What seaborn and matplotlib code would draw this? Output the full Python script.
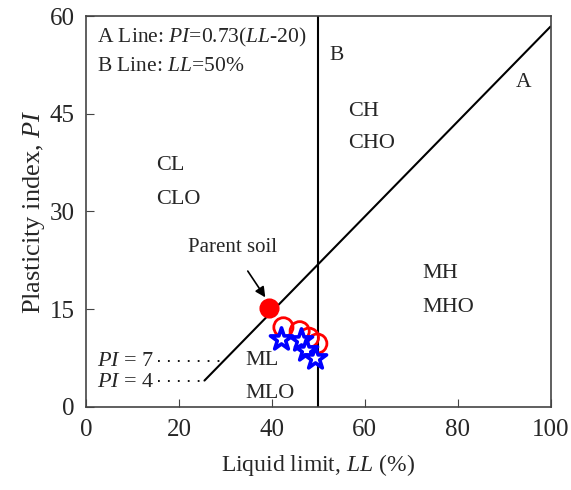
import seaborn as sns
import matplotlib.pyplot as plt
import pandas as pd
import numpy as np

# --- Data ---
parent_ll = [39.3]
parent_pi = [15.2]

circle_ll = [42.5, 46.0, 48.0, 49.8]
circle_pi = [12.2, 11.6, 10.6, 9.7]

star_ll = [41.9, 46.3, 47.4, 49.3]
star_pi = [10.4, 10.2, 8.7, 7.5]

a_line_ll = [25.5, 100]
a_line_pi = [0.73 * (v - 20) for v in a_line_ll]

zones = ["CL", "CLO", "CH", "CHO", "MH", "MHO", "ML", "MLO"]
zone_x = [15.0, 15.0, 56.5, 56.5, 72.5, 72.5, 34.3, 34.3]
zone_y = [37.0, 31.8, 45.4, 40.4, 20.4, 15.2, 7.1, 2.0]

sns.set_style("ticks")
plt.rcParams["font.family"] = ["Liberation Serif", "DejaVu Serif"]
plt.rcParams["mathtext.fontset"] = "custom"
plt.rcParams["mathtext.rm"] = "Liberation Serif"
plt.rcParams["mathtext.it"] = "Liberation Serif:italic"

fig = plt.figure(figsize=(5.71, 4.90), dpi=100)
ax = fig.add_axes([0.1506, 0.170, 0.8135, 0.797])

# A line and B line
sns.lineplot(x=a_line_ll, y=a_line_pi, ax=ax, color="black", linewidth=1.5)
ax.axvline(50, color="black", linewidth=1.5)

# PI = 7 and PI = 4 dotted guides up to the A line
ax.plot([15.5, 20 + 7 / 0.73], [7, 7], color="black", linestyle=(0, (1, 4.5)), linewidth=1.3)
ax.plot([15.5, 25.5], [4, 4], color="black", linestyle=(0, (1, 4.5)), linewidth=1.3)

# data points
sns.scatterplot(x=circle_ll, y=circle_pi, ax=ax, marker="o", s=190,
                facecolor="none", edgecolor="red", linewidth=2, zorder=3)
sns.scatterplot(x=star_ll, y=star_pi, ax=ax, marker="*", s=280,
                facecolor="white", edgecolor="blue", linewidth=2.6, zorder=4)
sns.scatterplot(x=parent_ll, y=parent_pi, ax=ax, marker="o", s=180,
                color="red", edgecolor="red", zorder=5)

# labels
ax.text(2.4, 56.8, "A Line: $PI$=0.73($LL$-20)", fontsize=15.5, va="center")
ax.text(2.4, 52.2, "B Line: $LL$=50%", fontsize=15.5, va="center")
ax.text(52.5, 53.9, "B", fontsize=15.5, va="center")
ax.text(92.5, 49.8, "A", fontsize=15.5, va="center")
for name, zx, zy in zip(zones, zone_x, zone_y):
    ax.text(zx, zy, name, fontsize=16, va="center")
ax.text(2.4, 7.0, "$PI$ = 7", fontsize=16, va="center")
ax.text(2.4, 3.7, "$PI$ = 4", fontsize=16, va="center")

ax.annotate("Parent soil", xy=(38.6, 16.8), xytext=(31.5, 24.4),
            fontsize=15, ha="center", va="center",
            arrowprops=dict(arrowstyle="-|>", color="black", lw=1.2,
                            shrinkA=9, shrinkB=0))

ax.set_xlim(0, 100)
ax.set_ylim(0, 60)
ax.set_xticks([0, 20, 40, 60, 80, 100])
ax.set_yticks([0, 15, 30, 45, 60])
ax.tick_params(direction="in", length=6, labelsize=18, color="#444444")
ax.tick_params(axis="x", pad=9)
ax.tick_params(axis="y", pad=8)
for sp in ax.spines.values():
    sp.set_color("#444444")
    sp.set_linewidth(1.2)

ax.set_xlabel("Liquid limit, $LL$ (%)", fontsize=17, labelpad=8)
ax.set_ylabel("Plasticity index, $PI$", fontsize=19, labelpad=2)

plt.savefig("out.png", dpi=100)
